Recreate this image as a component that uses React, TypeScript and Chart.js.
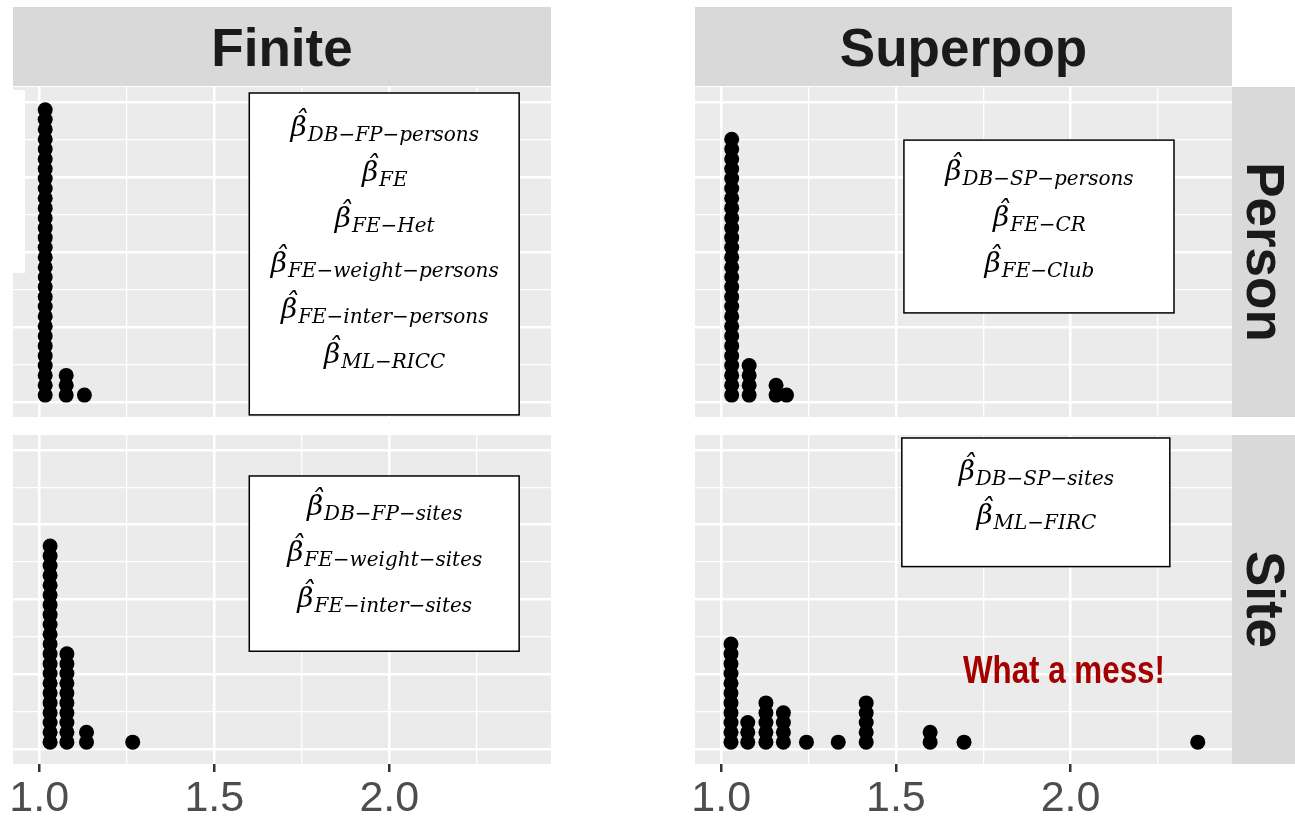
import { useEffect, useRef } from 'react';
import { Chart, registerables } from 'chart.js';

Chart.register(...registerables);

// Facet labels
const COLUMN_LABELS = ['Finite', 'Superpop'];
const ROW_LABELS = ['Person', 'Site'];

// Shared axes
const X_MIN = 0.925;
const X_MAX = 2.462;
const X_MAJOR = [1.0, 1.5, 2.0];
const X_MINOR = [1.25, 1.75, 2.25];
const Y_MIN = -0.05;
const Y_MAX = 1.05;
const Y_BREAKS = [0, 0.125, 0.25, 0.375, 0.5, 0.625, 0.75, 0.875, 1];

// Dot stacking, in y units
const DOT_BASE = 0.023;
const DOT_STEP = 0.0328;

// Finite / Person: bin centres and dots per bin
const finitePersonBins = [1.017, 1.077, 1.129];
const finitePersonCounts = [30, 3, 1];
// Superpop / Person
const superPersonBins = [1.03, 1.08, 1.157, 1.187];
const superPersonCounts = [27, 4, 2, 1];
// Finite / Site
const finiteSiteBins = [1.031, 1.079, 1.135, 1.267];
const finiteSiteCounts = [21, 10, 2, 1];
// Superpop / Site
const superSiteBins = [1.028, 1.076, 1.128, 1.178, 1.244, 1.335, 1.415, 1.598, 1.695, 2.364];
const superSiteCounts = [11, 3, 5, 4, 1, 1, 5, 2, 1, 1];

// Estimators listed in each panel (subscripts of beta-hat)
const finitePersonEstimators = ['DB−FP−persons', 'FE', 'FE−Het', 'FE−weight−persons', 'FE−inter−persons', 'ML−RICC'];
const superPersonEstimators = ['DB−SP−persons', 'FE−CR', 'FE−Club'];
const finiteSiteEstimators = ['DB−FP−sites', 'FE−weight−sites', 'FE−inter−sites'];
const superSiteEstimators = ['DB−SP−sites', 'ML−FIRC'];

const MESS_NOTE = 'What a mess!';

// Page layout
const PAGE_W = 1295;
const PAGE_H = 822;
const CANVAS_H = 830;
const COL_X = [[13, 551], [695, 1232]];
const ROW_Y = [[87, 417], [435, 765]];
const STRIP_TOP = 7;
const STRIP_BOTTOM = 86;
const AXIS_H = 62;

// Styles
const PANEL_BG = '#EBEBEB';
const STRIP_BG = '#D9D9D9';
const STRIP_TEXT = '#1A1A1A';
const STRIP_FONT = 'bold 53px "Liberation Sans", Arial, sans-serif';
const TICK_FAMILY = '"Liberation Sans", Arial, sans-serif';
const BETA = 'β';
const HAT = 'ˆ';
const BETA_FONT = 'italic 28px "DejaVu Serif", serif';
const SUB_FONT = 'italic 20px "DejaVu Serif", serif';
const MESS_FONT = 'bold 38px "Liberation Sans Narrow", "Liberation Sans", sans-serif';
const MESS_WIDTH = 202;

type Note = {
  x0: number; x1: number; y0: number; y1: number;
  first: number; gap: number; lines: string[];
};

type PanelSpec = {
  col: number;
  row: number;
  bins: number[];
  counts: number[];
  note: Note;
  mess?: { x: number; y: number };
  patch?: boolean;
};

const PANELS: PanelSpec[] = [
  {
    col: 0, row: 0, bins: finitePersonBins, counts: finitePersonCounts, patch: true,
    note: { x0: 1.6, x1: 2.371, y0: -0.043, y1: 1.03, first: 48, gap: 45.4, lines: finitePersonEstimators },
  },
  {
    col: 1, row: 0, bins: superPersonBins, counts: superPersonCounts,
    note: { x0: 1.523, x1: 2.296, y0: 0.297, y1: 0.873, first: 45, gap: 45.8, lines: superPersonEstimators },
  },
  {
    col: 0, row: 1, bins: finiteSiteBins, counts: finiteSiteCounts,
    note: { x0: 1.6, x1: 2.371, y0: 0.327, y1: 0.913, first: 44, gap: 46, lines: finiteSiteEstimators },
  },
  {
    col: 1, row: 1, bins: superSiteBins, counts: superSiteCounts,
    note: { x0: 1.517, x1: 2.284, y0: 0.61, y1: 1.04, first: 47, gap: 44, lines: superSiteEstimators },
    mess: { x: 1.981, y: 0.257 },
  },
];

function stackDots(bins: number[], counts: number[]) {
  const pts: { x: number; y: number }[] = [];
  bins.forEach((x, i) => {
    for (let k = 0; k < counts[i]; k++) pts.push({ x, y: DOT_BASE + k * DOT_STEP });
  });
  return pts;
}

const isMajorX = (v: number) => X_MAJOR.some((m) => Math.abs(m - v) < 1e-9);
const isMajorY = (v: number) => Math.abs(v * 4 - Math.round(v * 4)) < 1e-9;

function Panel({ spec }: { spec: PanelSpec }) {
  const ref = useRef<HTMLCanvasElement>(null);

  useEffect(() => {
    const canvas = ref.current;
    if (!canvas) return;
    const { col, row } = spec;
    const [left, right] = COL_X[col];
    const [top, bottom] = ROW_Y[row];
    const showTicks = row === 1;
    const xBreaks = [...X_MAJOR, ...X_MINOR].sort((a, b) => a - b);

    const decor = {
      id: 'facetDecor',
      beforeDraw(chart: any) {
        const { ctx, chartArea: a } = chart;
        ctx.save();
        ctx.fillStyle = PANEL_BG;
        ctx.fillRect(a.left, a.top, a.right - a.left, a.bottom - a.top);
        ctx.fillStyle = STRIP_BG;
        if (row === 0) {
          ctx.fillRect(a.left, STRIP_TOP, a.right - a.left, STRIP_BOTTOM - STRIP_TOP);
          ctx.fillStyle = STRIP_TEXT;
          ctx.font = STRIP_FONT;
          ctx.textAlign = 'center';
          ctx.textBaseline = 'alphabetic';
          ctx.fillText(COLUMN_LABELS[col], (a.left + a.right) / 2, (STRIP_TOP + STRIP_BOTTOM) / 2 + 19);
        }
        if (col === 1) {
          ctx.fillStyle = STRIP_BG;
          ctx.fillRect(a.right, a.top, PAGE_W - a.right, a.bottom - a.top);
          ctx.fillStyle = STRIP_TEXT;
          ctx.font = STRIP_FONT;
          ctx.textAlign = 'center';
          ctx.textBaseline = 'alphabetic';
          ctx.translate(a.right + 34, (a.top + a.bottom) / 2);
          ctx.rotate(Math.PI / 2);
          ctx.fillText(ROW_LABELS[row], 0, 19);
        }
        ctx.restore();
      },
      afterDraw(chart: any) {
        const { ctx, chartArea: a, scales } = chart;
        const xs = scales.x;
        const ys = scales.y;
        ctx.save();
        if (spec.patch) {
          ctx.fillStyle = '#FFFFFF';
          ctx.fillRect(a.left, 90, 12, 183);
        }
        const n = spec.note;
        const l = xs.getPixelForValue(n.x0);
        const r = xs.getPixelForValue(n.x1);
        const t = ys.getPixelForValue(n.y1);
        const b = ys.getPixelForValue(n.y0);
        ctx.fillStyle = '#FFFFFF';
        ctx.fillRect(l, t, r - l, b - t);
        ctx.strokeStyle = '#000000';
        ctx.lineWidth = 1.5;
        ctx.strokeRect(l, t, r - l, b - t);
        const cx = (l + r) / 2;
        ctx.fillStyle = '#000000';
        ctx.textBaseline = 'alphabetic';
        n.lines.forEach((sub, i) => {
          const base = t + n.first + i * n.gap;
          ctx.font = BETA_FONT;
          const bw = ctx.measureText(BETA).width;
          ctx.font = SUB_FONT;
          const sw = ctx.measureText(sub).width;
          const x = cx - (bw + sw) / 2;
          ctx.font = BETA_FONT;
          ctx.textAlign = 'left';
          ctx.fillText(BETA, x, base - 5);
          ctx.textAlign = 'center';
          ctx.fillText(HAT, x + bw * 0.62, base - 11);
          ctx.textAlign = 'left';
          ctx.font = SUB_FONT;
          ctx.fillText(sub, x + bw + 1, base);
        });
        if (spec.mess) {
          const mx = xs.getPixelForValue(spec.mess.x);
          const my = ys.getPixelForValue(spec.mess.y);
          ctx.font = MESS_FONT;
          const w = ctx.measureText(MESS_NOTE).width;
          const k = Math.min(1, MESS_WIDTH / w);
          ctx.translate(mx, my);
          ctx.scale(k, 1);
          ctx.fillStyle = '#A40000';
          ctx.textAlign = 'center';
          ctx.textBaseline = 'middle';
          ctx.fillText(MESS_NOTE, 0, 0);
        }
        ctx.restore();
      },
    };

    const chart = new Chart(canvas, {
      type: 'scatter',
      data: {
        datasets: [
          {
            data: stackDots(spec.bins, spec.counts),
            backgroundColor: '#000000',
            borderWidth: 0,
            pointRadius: 7.5,
            pointHoverRadius: 7.5,
          },
        ],
      },
      options: {
        responsive: false,
        animation: false,
        events: [],
        layout: {
          padding: {
            left,
            top,
            right: PAGE_W - right,
            bottom: CANVAS_H - bottom - (showTicks ? AXIS_H : 0),
          },
        },
        plugins: { legend: { display: false }, tooltip: { enabled: false } },
        scales: {
          x: {
            type: 'linear',
            min: X_MIN,
            max: X_MAX,
            bounds: 'data',
            afterBuildTicks: (s: any) => {
              s.ticks = xBreaks.map((v) => ({ value: v }));
            },
            border: { display: false },
            grid: {
              color: '#FFFFFF',
              lineWidth: (c: any) => (c.tick && isMajorX(c.tick.value) ? 2.5 : 1.3),
              drawTicks: showTicks,
              tickLength: 8,
              tickWidth: 2.5,
              tickColor: (c: any) => (c.tick && isMajorX(c.tick.value) ? '#333333' : 'rgba(0,0,0,0)'),
            },
            ticks: {
              display: showTicks,
              autoSkip: false,
              maxRotation: 0,
              minRotation: 0,
              padding: 6,
              color: '#4D4D4D',
              font: { family: TICK_FAMILY, size: 43, lineHeight: 1 },
              callback: (v: any) => (isMajorX(Number(v)) ? Number(v).toFixed(1) : ''),
            },
          },
          y: {
            type: 'linear',
            min: Y_MIN,
            max: Y_MAX,
            bounds: 'data',
            afterBuildTicks: (s: any) => {
              s.ticks = Y_BREAKS.map((v) => ({ value: v }));
            },
            border: { display: false },
            grid: {
              color: '#FFFFFF',
              lineWidth: (c: any) => (c.tick && isMajorY(c.tick.value) ? 2.5 : 1.3),
              drawTicks: false,
            },
            ticks: { display: false },
          },
        },
      },
      plugins: [decor],
    } as any);

    return () => chart.destroy();
  }, [spec]);

  return (
    <canvas
      ref={ref}
      width={PAGE_W}
      height={CANVAS_H}
      style={{ position: 'absolute', left: 0, top: 0, width: PAGE_W, height: CANVAS_H }}
    />
  );
}

export default function App() {
  return (
    <div
      style={{
        position: 'absolute',
        left: 0,
        top: 0,
        width: PAGE_W,
        height: PAGE_H,
        overflow: 'hidden',
        background: '#FFFFFF',
      }}
    >
      {PANELS.map((p) => (
        <Panel key={`${p.col}-${p.row}`} spec={p} />
      ))}
    </div>
  );
}
